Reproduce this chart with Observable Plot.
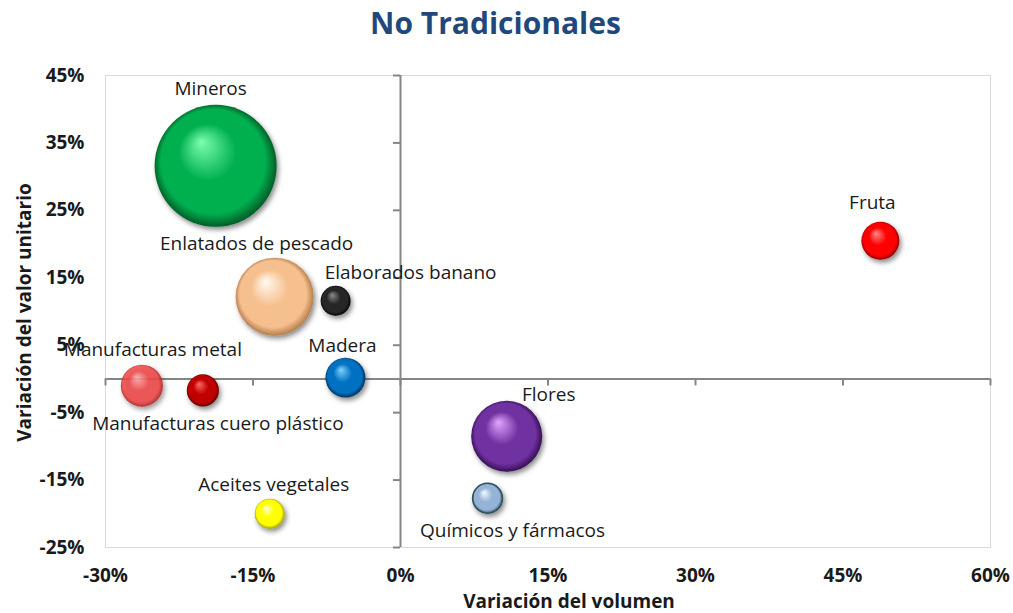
<!DOCTYPE html>
<html>
<head>
<meta charset="utf-8">
<script src="https://cdn.jsdelivr.net/npm/d3@7"></script>
<script src="https://cdn.jsdelivr.net/npm/@observablehq/plot@0.6"></script>
<style>
  body { margin: 0; background: #fff; }
  #title { height: 50px; width: 1013px; box-sizing: border-box; padding-right: 22px; padding-top: 3px;
           text-align: center; font-family: "Open Sans", sans-serif; font-weight: bold; font-size: 30px;
           color: #1F497D; line-height: 40px; }
  #chart svg { display: block; }
</style>
</head>
<body>
<div id="title">No Tradicionales</div>
<div id="chart"></div>
<script>
// ---- data ----
const categories = ["Mineros", "Enlatados de pescado", "Elaborados banano", "Madera", "Manufacturas metal",
  "Manufacturas cuero plástico", "Aceites vegetales", "Flores", "Químicos y fármacos", "Fruta"];
const volumen = [-18.8, -12.8, -6.6, -5.6, -26.3, -20.1, -13.3, 10.8, 8.85, 48.8];       // x, %
const valorUnitario = [31.6, 12.2, 11.6, 0.2, -1.0, -1.7, -20.0, -8.5, -17.7, 20.5];     // y, %
const tamano = [100, 40.9, 6.0, 10.7, 11.9, 6.9, 6.0, 33.9, 6.0, 9.7];                    // bubble size
const xTicks = [-30, -15, 0, 15, 30, 45, 60];
const yTicks = [-25, -15, -5, 5, 15, 25, 35, 45];

// ---- styles ----
// [highlight, main, edge]
const palette = [
  ["#7dffb0", "#00b050", "#004d1f"],
  ["#fffaf2", "#f6c08e", "#a8703f"],
  ["#8c8c8c", "#262626", "#000000"],
  ["#7fd4ff", "#0070c0", "#00264a"],
  ["#ffb0b0", "#f04848", "#a01818"],
  ["#ff6a6a", "#c00000", "#4a0000"],
  ["#ffffd0", "#ffff00", "#8f8f00"],
  ["#e2a6ff", "#7030a0", "#2a0a45"],
  ["#f4faff", "#95b3d7", "#2d4f66"],
  ["#ff8a8a", "#ff0000", "#800000"]
];
// label offsets in pixels [dx, dy]
const labelOffsets = [[-5, -77], [-18, -53], [75, -28], [-3, -32], [11, -36], [15, 34], [4, -29], [42, -41], [25, 33], [-8, -38]];

const data = categories.map((c, i) => ({cat: c, x: volumen[i], y: valorUnitario[i], size: tamano[i], i}));

const axisColor = "#868686";
const font = "'Open Sans', sans-serif";

const labelMarks = data.map((d, i) => Plot.text([d], {
  x: "x", y: "y", text: "cat", dx: labelOffsets[i][0], dy: labelOffsets[i][1],
  fill: "#1a1a1a", fontSize: 19
}));

const chart = Plot.plot({
  width: 1013,
  height: 563,
  marginTop: 25,
  marginBottom: 66,
  marginLeft: 105,
  marginRight: 23,
  x: {domain: [-30, 60]},
  y: {domain: [-25, 45]},
  r: {type: "sqrt", domain: [0, 100], range: [0, 61]},
  color: {type: "identity"},
  style: {fontFamily: font, fontSize: "16px", color: "#000", background: "#fff"},
  marks: [
    Plot.frame({stroke: "#d9d9d9"}),
    Plot.axisX(xTicks, {tickSize: 0, tickPadding: 21, tickFormat: d => d + "%", fontWeight: "bold", fontSize: 19, fill: "#1a1a1a", label: null}),
    Plot.axisY(yTicks, {tickSize: 0, tickPadding: 21, tickFormat: d => d + "%", fontWeight: "bold", fontSize: 19, fill: "#1a1a1a", label: null}),
    Plot.ruleX([0], {stroke: axisColor, strokeWidth: 2}),
    Plot.ruleY([0], {stroke: axisColor, strokeWidth: 2}),
    Plot.ruleY(yTicks, {x1: 0, x2: 0, insetLeft: -7, stroke: axisColor, strokeWidth: 2}),
    Plot.ruleX(xTicks, {y1: 0, y2: 0, insetBottom: -7, stroke: axisColor, strokeWidth: 2}),
    Plot.dot(data, {x: "x", y: "y", r: "size", fill: d => `url(#g${d.i})`,
      stroke: d => d.i === 8 ? "#2d4f5c" : "none", strokeWidth: 1.5}),
    ...labelMarks,
    Plot.text(["Variación del volumen"], {frameAnchor: "bottom", textAnchor: "middle", lineAnchor: "middle",
      dx: 21, dy: 54, fontWeight: "bold", fontSize: 19, fill: "#1a1a1a"}),
    Plot.text(["Variación del valor unitario"], {frameAnchor: "left", textAnchor: "middle", lineAnchor: "middle",
      rotate: -90, dx: -81, dy: 1, fontWeight: "bold", fontSize: 19, fill: "#1a1a1a"})
  ]
});

// gradient & shadow definitions
const svgNS = "http://www.w3.org/2000/svg";
const defs = document.createElementNS(svgNS, "defs");
let html = `<filter id="shadow" x="-30%" y="-30%" width="170%" height="170%">
  <feDropShadow dx="2" dy="3" stdDeviation="2.5" flood-color="#000" flood-opacity="0.45"/></filter>`;
palette.forEach((p, i) => {
  const op = i === 4 ? 0.85 : 1;
  html += `<radialGradient id="g${i}" cx="50%" cy="50%" r="52%" fx="38%" fy="30%">
    <stop offset="0" stop-color="${p[0]}" stop-opacity="${op}"/>
    <stop offset="0.45" stop-color="${p[1]}" stop-opacity="${op}"/>
    <stop offset="0.82" stop-color="${p[1]}" stop-opacity="${op}"/>
    <stop offset="1" stop-color="${p[2]}" stop-opacity="${op}"/>
  </radialGradient>`;
});
defs.innerHTML = html;
chart.insertBefore(defs, chart.firstChild);
d3.select(chart).selectAll("g[aria-label=dot] circle").attr("filter", "url(#shadow)");

document.getElementById("chart").appendChild(chart);
</script>
</body>
</html>
